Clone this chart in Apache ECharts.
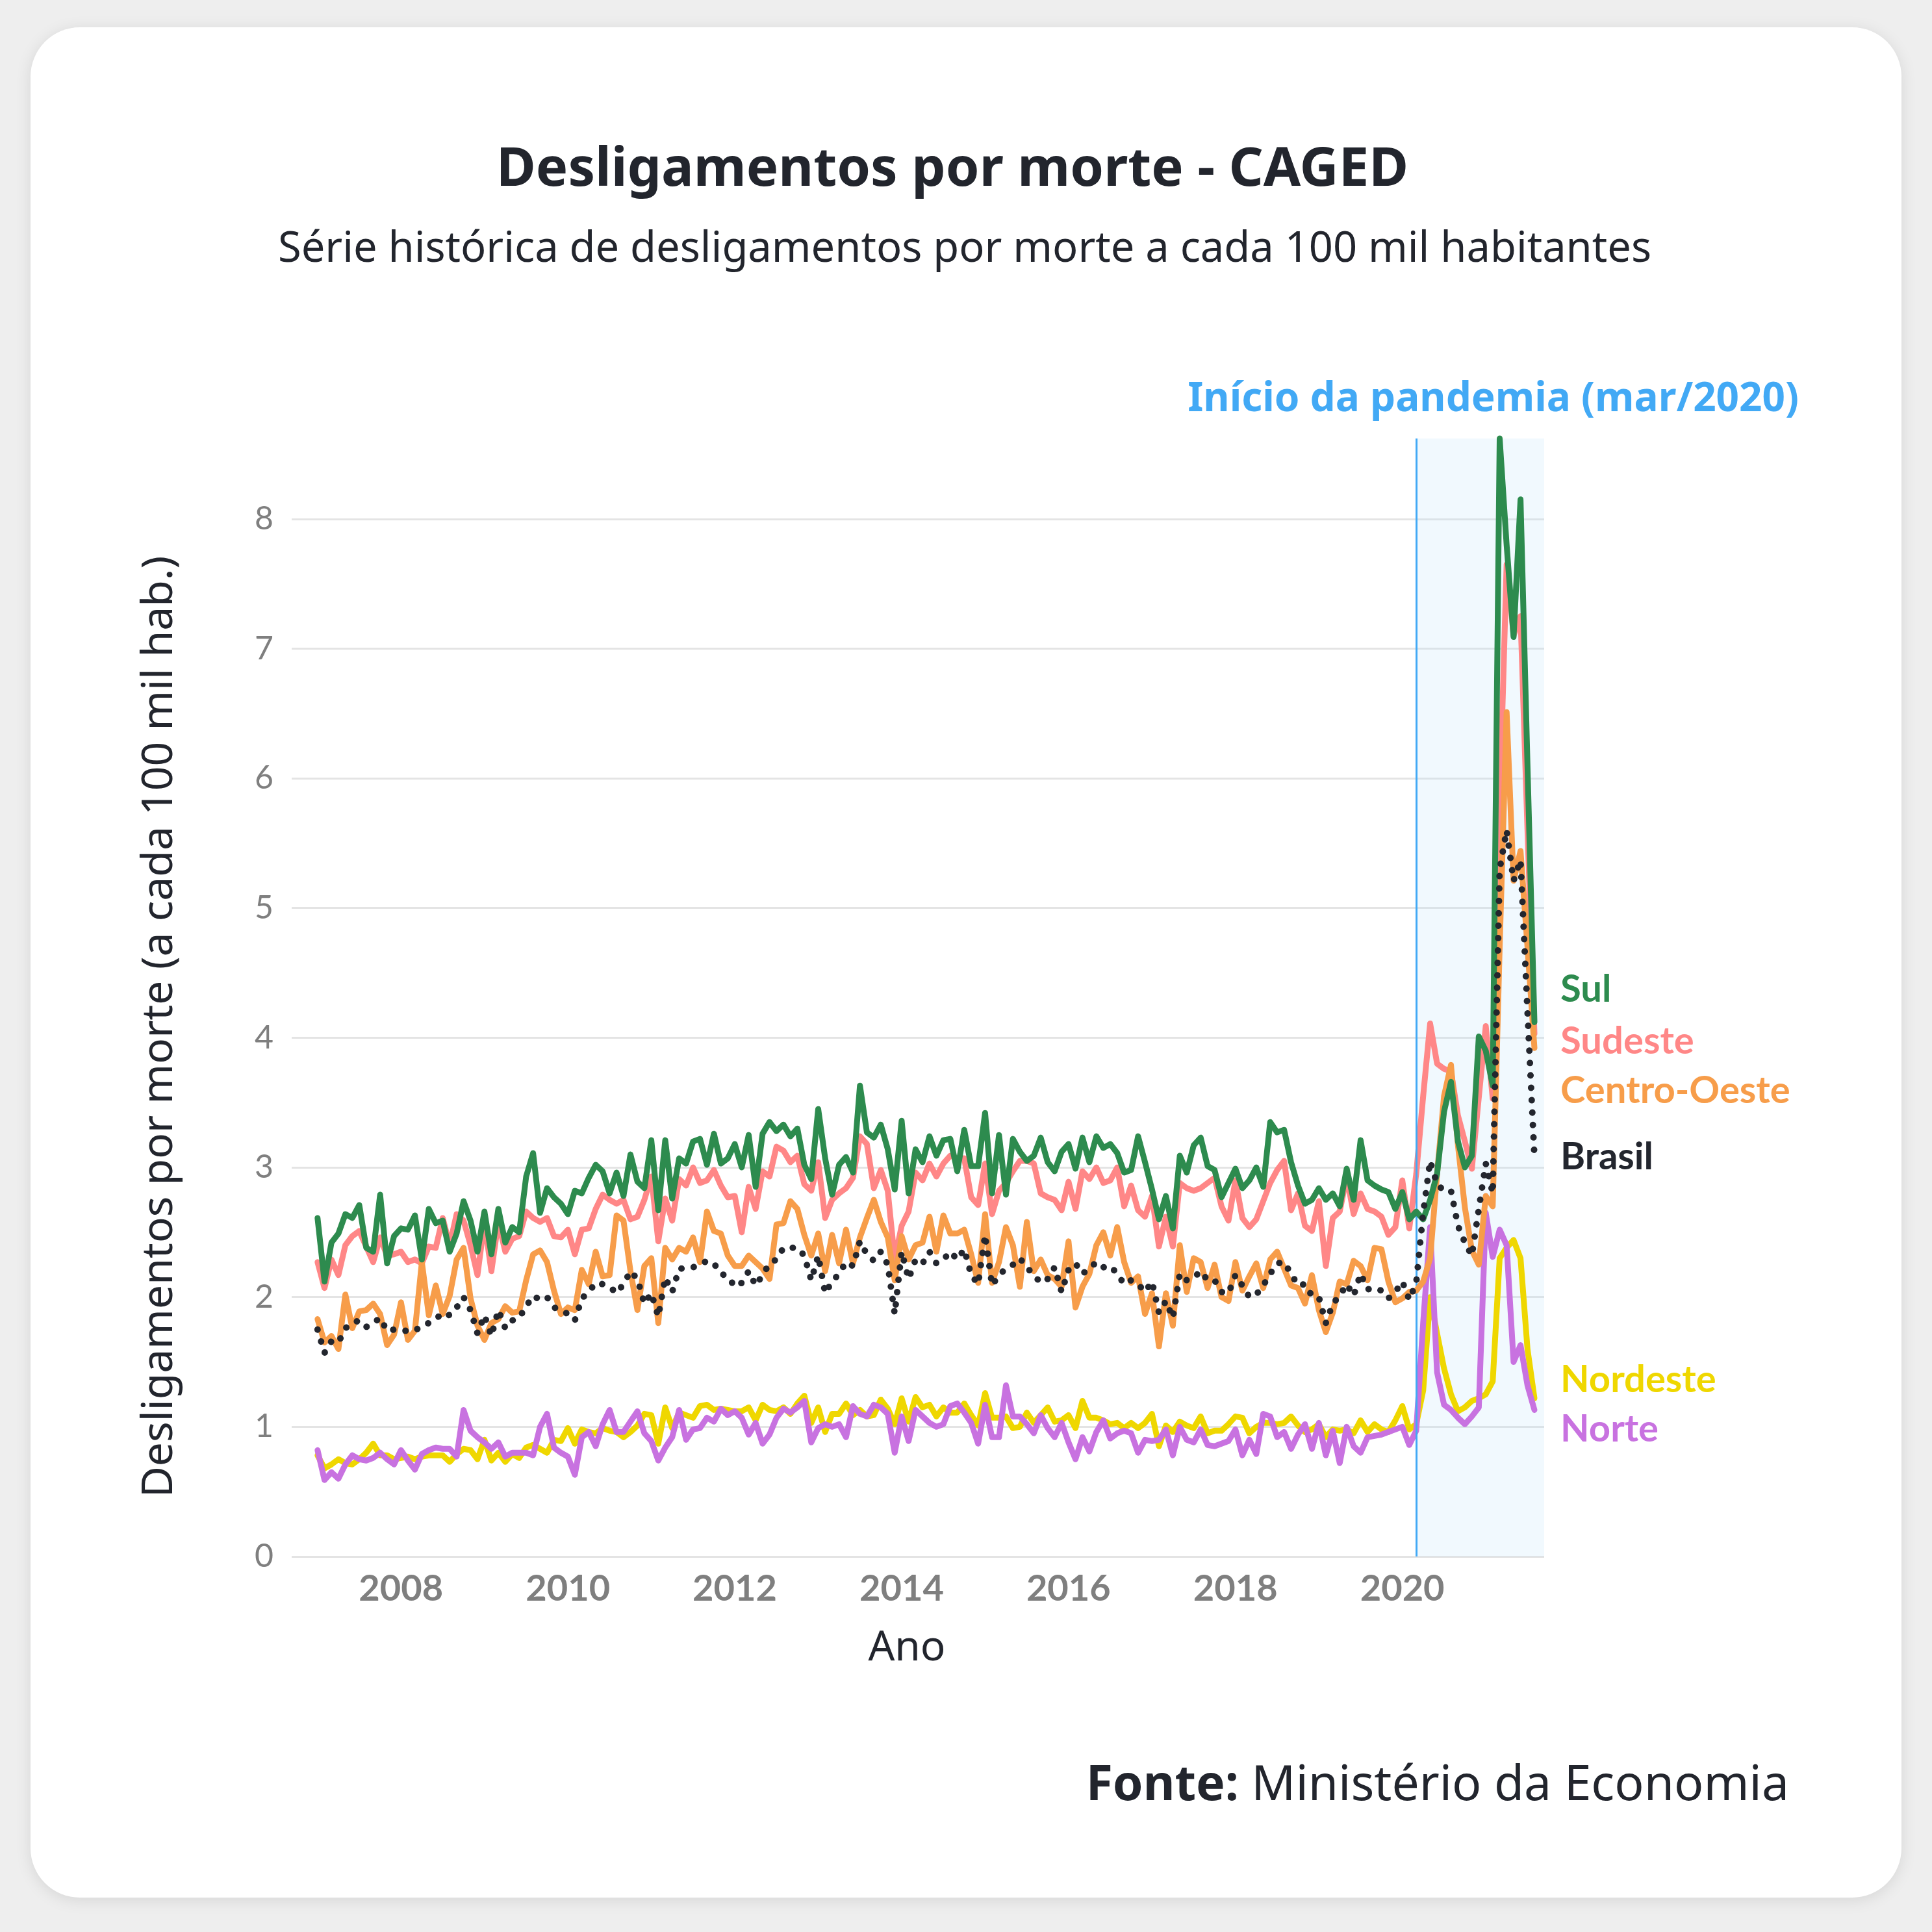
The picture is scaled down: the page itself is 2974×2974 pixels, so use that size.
<!DOCTYPE html>
<html>
<head>
<meta charset="utf-8">
<script src="https://cdn.jsdelivr.net/npm/echarts@6/dist/echarts.min.js"></script>
<style>
html, body { margin: 0; padding: 0; background: #eeeeee; width: 2974px; height: 2974px; overflow: hidden; }
#card { position: absolute; left: 47px; top: 42px; width: 2880px; height: 2879px; background: #ffffff; border-radius: 76px; box-shadow: 0 4px 24px rgba(0,0,0,0.10); }
#chart { position: absolute; left: 0; top: 0; width: 2974px; height: 2974px; }
</style>
</head>
<body>
<div id="card"></div>
<div id="chart"></div>
<script>
// Monthly series, Jan 2007 .. Aug 2021 (deaths-related dismissals per 100k inhabitants)
const START_YEAR = 2007;
const PANDEMIC_START = 2020 + 2 / 12; // mar/2020
const X_TICK_LABELS = ['2008', '2010', '2012', '2014', '2016', '2018', '2020'];

const sul = [
  2.61,2.12,2.42,2.49,2.64,2.61,2.71,2.38,2.35,2.79,2.26,2.47,
  2.53,2.52,2.63,2.29,2.68,2.57,2.59,2.35,2.49,2.74,2.59,2.35,
  2.66,2.33,2.68,2.42,2.54,2.50,2.93,3.11,2.65,2.84,2.77,2.72,
  2.64,2.82,2.80,2.92,3.02,2.97,2.80,2.96,2.78,3.10,2.89,2.84,
  3.21,2.67,3.21,2.76,3.07,3.03,3.20,3.22,3.02,3.26,3.03,3.07,
  3.18,3.00,3.25,2.85,3.26,3.35,3.28,3.33,3.24,3.30,3.02,2.91,
  3.45,3.07,2.79,3.02,3.08,2.96,3.63,3.27,3.23,3.33,3.14,2.83,
  3.36,2.80,3.14,3.04,3.24,3.09,3.21,3.22,2.97,3.29,3.01,3.01,
  3.42,2.80,3.25,2.79,3.22,3.12,3.05,3.09,3.23,3.04,2.97,3.12,
  3.18,2.99,3.23,3.04,3.24,3.15,3.18,3.11,2.96,2.98,3.24,3.04,
  2.83,2.60,2.78,2.53,3.09,2.96,3.17,3.23,3.01,2.98,2.77,2.88,
  2.99,2.84,2.90,3.00,2.85,3.35,3.27,3.29,3.04,2.86,2.72,2.75,
  2.84,2.75,2.80,2.70,2.99,2.75,3.21,2.90,2.86,2.83,2.81,2.68,
  2.81,2.60,2.66,2.60,2.75,2.95,3.43,3.66,3.20,3.00,3.09,4.01,
  3.90,3.63,8.62,7.80,7.09,8.15,6.10,4.12
];
const sudeste = [
  2.27,2.07,2.29,2.17,2.40,2.47,2.51,2.39,2.27,2.46,2.32,2.33,
  2.35,2.27,2.29,2.26,2.39,2.38,2.61,2.40,2.64,2.59,2.40,2.17,
  2.58,2.20,2.58,2.35,2.45,2.47,2.66,2.61,2.58,2.61,2.47,2.46,
  2.52,2.33,2.52,2.53,2.68,2.79,2.75,2.72,2.75,2.60,2.62,2.75,
  2.93,2.43,2.76,2.59,2.91,2.86,3.00,2.88,2.90,2.98,2.86,2.77,
  2.78,2.50,2.85,2.68,2.97,2.93,3.16,3.13,3.04,3.09,2.87,2.82,
  3.04,2.61,2.75,2.80,2.84,2.92,3.24,3.18,2.84,2.98,2.82,2.29,
  2.55,2.66,2.96,2.90,3.03,2.93,3.03,3.09,3.07,3.07,2.77,2.71,
  3.03,2.64,2.82,2.88,2.97,3.05,3.05,3.03,2.80,2.77,2.75,2.67,
  2.89,2.68,2.97,2.91,3.00,2.88,2.90,3.00,2.70,2.86,2.67,2.62,
  2.78,2.39,2.62,2.39,2.88,2.84,2.82,2.84,2.88,2.92,2.70,2.59,
  2.90,2.61,2.54,2.60,2.74,2.88,2.98,3.05,2.67,2.80,2.55,2.51,
  2.74,2.24,2.61,2.66,2.93,2.64,2.80,2.68,2.66,2.62,2.48,2.54,
  2.90,2.53,2.95,3.55,4.11,3.80,3.76,3.74,3.40,3.20,2.99,3.54,
  4.09,3.53,5.80,7.65,7.10,7.25,5.60,4.03
];
const centroOeste = [
  1.83,1.65,1.70,1.60,2.02,1.76,1.89,1.90,1.95,1.87,1.63,1.71,
  1.96,1.67,1.74,2.27,1.86,2.09,1.87,2.01,2.29,2.38,1.99,1.78,
  1.67,1.80,1.83,1.93,1.88,1.89,2.13,2.33,2.36,2.27,2.05,1.87,
  1.92,1.90,2.21,2.10,2.35,2.16,2.17,2.63,2.59,2.20,1.90,2.24,
  2.30,1.80,2.38,2.29,2.38,2.35,2.46,2.27,2.66,2.51,2.49,2.32,
  2.24,2.24,2.32,2.27,2.22,2.14,2.56,2.57,2.74,2.68,2.48,2.32,
  2.49,2.20,2.48,2.26,2.52,2.26,2.46,2.61,2.75,2.58,2.46,2.13,
  2.47,2.29,2.40,2.42,2.62,2.35,2.63,2.49,2.49,2.52,2.33,2.11,
  2.64,2.11,2.27,2.54,2.40,2.08,2.58,2.20,2.29,2.17,2.14,2.08,
  2.43,1.92,2.08,2.18,2.40,2.50,2.32,2.54,2.27,2.11,2.16,1.87,
  2.03,1.62,2.03,1.78,2.40,2.04,2.30,2.27,2.07,2.25,2.00,1.97,
  2.27,2.05,2.16,2.26,2.07,2.29,2.35,2.22,2.09,2.07,1.95,2.17,
  1.90,1.73,1.88,2.12,2.10,2.28,2.24,2.13,2.38,2.37,2.12,1.96,
  1.99,2.04,2.05,2.12,2.30,2.95,3.55,3.79,3.17,2.69,2.36,2.25,
  2.78,2.70,4.70,6.51,5.21,5.44,4.70,3.92
];
const brasil = [
  1.75,1.57,1.66,1.65,1.76,1.80,1.82,1.77,1.80,1.84,1.74,1.75,
  1.74,1.74,1.74,1.78,1.80,1.83,1.88,1.86,1.92,2.00,1.90,1.72,
  1.86,1.70,1.90,1.76,1.82,1.84,1.93,2.01,1.98,2.00,1.92,1.90,
  1.87,1.82,1.99,2.04,2.11,2.10,2.08,2.03,2.10,2.20,2.14,1.95,
  2.03,1.85,2.15,2.04,2.22,2.22,2.23,2.25,2.28,2.26,2.18,2.16,
  2.08,2.11,2.20,2.09,2.17,2.26,2.29,2.38,2.38,2.38,2.32,2.13,
  2.32,2.03,2.12,2.18,2.27,2.24,2.43,2.33,2.28,2.35,2.25,1.87,
  2.35,2.14,2.29,2.26,2.35,2.26,2.29,2.35,2.29,2.37,2.17,2.10,
  2.48,2.09,2.17,2.22,2.25,2.30,2.23,2.17,2.11,2.14,2.23,2.04,
  2.21,2.26,2.18,2.22,2.27,2.23,2.24,2.18,2.10,2.13,2.10,2.04,
  2.12,1.88,1.97,1.84,2.18,2.13,2.15,2.20,2.13,2.13,2.04,2.03,
  2.17,2.09,2.00,2.02,2.09,2.18,2.26,2.27,2.18,2.09,2.10,2.01,
  2.00,1.80,1.95,2.01,2.10,2.01,2.18,2.06,2.07,2.05,1.99,2.04,
  2.12,1.98,2.11,2.65,3.05,2.87,2.82,2.82,2.55,2.42,2.32,2.68,
  3.03,2.80,5.30,5.60,5.21,5.37,4.20,3.08
];
const nordeste = [
  0.78,0.68,0.71,0.75,0.72,0.71,0.75,0.80,0.87,0.78,0.78,0.75,
  0.76,0.77,0.75,0.77,0.78,0.78,0.78,0.73,0.79,0.83,0.82,0.75,
  0.90,0.74,0.80,0.73,0.79,0.76,0.84,0.86,0.83,0.80,0.90,0.89,
  0.99,0.87,0.98,0.96,0.95,0.99,0.97,0.96,0.92,0.96,1.01,1.10,
  1.09,0.87,1.15,0.99,1.11,1.09,1.07,1.16,1.17,1.13,1.14,1.13,
  1.12,1.12,1.15,1.05,1.17,1.13,1.12,1.15,1.10,1.18,1.24,1.03,
  1.15,0.96,1.10,1.10,1.18,1.09,1.13,1.08,1.09,1.21,1.14,1.02,
  1.22,1.04,1.23,1.15,1.17,1.08,1.15,1.11,1.11,1.18,1.09,1.01,
  1.26,1.07,1.07,1.08,0.99,1.00,1.11,1.03,1.09,1.15,1.04,1.05,
  1.09,0.99,1.20,1.07,1.07,1.05,1.02,1.03,0.99,1.03,0.99,1.03,
  1.10,0.85,1.01,0.96,1.04,1.01,0.99,1.08,0.95,0.97,0.97,1.02,
  1.08,1.07,0.95,1.00,1.03,1.03,1.02,1.03,1.08,1.01,0.96,0.98,
  1.02,0.92,0.98,0.97,0.98,0.95,1.05,0.96,1.02,0.98,0.96,1.05,
  1.16,0.98,1.02,1.28,2.00,1.72,1.45,1.25,1.12,1.15,1.20,1.22,
  1.25,1.35,2.30,2.38,2.44,2.30,1.60,1.22
];
const norte = [
  0.82,0.59,0.65,0.60,0.71,0.78,0.75,0.74,0.76,0.80,0.75,0.71,
  0.82,0.74,0.67,0.79,0.82,0.84,0.83,0.83,0.77,1.13,0.97,0.92,
  0.88,0.83,0.88,0.77,0.80,0.80,0.80,0.78,1.00,1.10,0.84,0.80,
  0.77,0.63,0.92,0.96,0.85,1.02,1.13,0.96,0.96,1.04,1.12,0.95,
  0.89,0.74,0.84,0.92,1.13,0.90,0.98,0.99,1.07,1.04,1.14,1.09,
  1.12,1.07,0.94,1.03,0.87,0.94,1.07,1.14,1.11,1.15,1.20,0.88,
  0.99,1.02,1.00,1.02,0.92,1.16,1.10,1.08,1.17,1.15,1.10,0.80,
  1.08,0.89,1.13,1.08,1.03,1.00,1.02,1.16,1.18,1.11,1.03,0.87,
  1.17,0.92,0.92,1.32,1.08,1.08,1.02,0.95,1.09,0.99,0.92,1.03,
  0.88,0.75,0.92,0.81,0.96,1.05,0.91,0.95,0.97,0.95,0.80,0.90,
  0.89,0.90,0.98,0.78,1.00,0.90,0.88,0.98,0.86,0.85,0.87,0.89,
  0.98,0.78,0.90,0.79,1.10,1.08,0.92,0.96,0.83,0.94,1.02,0.83,
  1.03,0.78,0.97,0.72,1.00,0.85,0.80,0.92,0.93,0.94,0.96,0.98,
  1.00,0.86,0.97,1.80,2.54,1.42,1.17,1.13,1.07,1.02,1.08,1.15,
  2.65,2.31,2.52,2.40,1.50,1.63,1.32,1.13
];

const toPairs = arr => arr.map((v, i) => [START_YEAR + i / 12, v]);
const Y_MAX = Math.max(...sul, ...sudeste, ...centroOeste, ...brasil, ...nordeste, ...norte);

// Layout (page pixels)
const GRID = { left: 449, right: 597, bottom: 578 };
const UNIT_PX = 199.6;
GRID.top = Math.round(2974 - GRID.bottom - Y_MAX * UNIT_PX);
const X_MIN = 2006.69, X_MAX = 2021.70;

const LABEL_FONT = 'Lato, "Noto Sans", sans-serif';
const HEAD_FONT = '"Noto Sans", "Open Sans", sans-serif';
const DARK = '#22252d';

function lineSeries(name, data, color, z, labelDy, extra) {
  return Object.assign({
    name: name,
    type: 'line',
    data: toPairs(data),
    showSymbol: false,
    symbol: 'none',
    clip: false,
    z: z,
    lineStyle: { color: color, width: 9, cap: 'round', join: 'round' },
    itemStyle: { color: color },
    emphasis: { disabled: true },
    endLabel: {
      show: true,
      formatter: name,
      color: color,
      fontFamily: LABEL_FONT,
      fontWeight: 'bold',
      fontSize: 58,
      distance: 40,
      offset: [0, labelDy]
    }
  }, extra || {});
}

const chart = echarts.init(document.getElementById('chart'), null, { renderer: 'canvas', width: 2974, height: 2974 });

chart.setOption({
  animation: false,
  backgroundColor: 'transparent',
  grid: { left: GRID.left, right: GRID.right, top: GRID.top, bottom: GRID.bottom, containLabel: false },
  xAxis: {
    type: 'value',
    min: X_MIN,
    max: X_MAX,
    splitNumber: 7,
    name: 'Ano',
    nameLocation: 'middle',
    nameGap: 110,
    nameTextStyle: { color: DARK, fontFamily: HEAD_FONT, fontSize: 64, padding: [0, 34, 0, 0] },
    axisLine: { show: false },
    axisTick: { show: false },
    splitLine: { show: false },
    axisLabel: {
      color: '#7f7f7f',
      fontFamily: LABEL_FONT,
      fontWeight: 'bold',
      fontSize: 56,
      margin: 22,
      showMinLabel: false,
      showMaxLabel: false,
      formatter: v => {
        const s = String(Math.round(v));
        return (Math.abs(v - Math.round(v)) < 1e-6 && X_TICK_LABELS.includes(s)) ? s : '';
      }
    }
  },
  yAxis: {
    type: 'value',
    min: 0,
    max: Y_MAX,
    interval: 1,
    name: 'Desligamentos por morte (a cada 100 mil hab.)',
    nameLocation: 'middle',
    nameGap: 170,
    nameTextStyle: { color: DARK, fontFamily: HEAD_FONT, fontSize: 66, padding: [0, 90, 0, 0] },
    axisLine: { show: false },
    axisTick: { show: false },
    splitLine: { show: true, showMaxLine: false, lineStyle: { color: '#e4e4e4', width: 3 } },
    axisLabel: {
      color: '#7f7f7f',
      fontFamily: LABEL_FONT,
      fontSize: 50,
      margin: 28,
      showMaxLabel: false
    }
  },
  graphic: [
    { type: 'text', x: 1466, y: 262, style: { text: 'Desligamentos por morte - CAGED', fill: DARK, fontFamily: HEAD_FONT, fontWeight: 'bold', fontSize: 83, align: 'center', verticalAlign: 'middle' } },
    { type: 'text', x: 1485, y: 384, style: { text: 'Série histórica de desligamentos por morte a cada 100 mil habitantes', fill: DARK, fontFamily: HEAD_FONT, fontSize: 65, align: 'center', verticalAlign: 'middle' } },
    { type: 'text', x: 2769, y: 615, style: { text: 'Início da pandemia (mar/2020)', fill: '#42a9f5', fontFamily: HEAD_FONT, fontWeight: 'bold', fontSize: 62, align: 'right', verticalAlign: 'middle' } },
    { type: 'text', x: 2754, y: 2750, style: {
        text: '{b|Fonte:} {r|Ministério da Economia}',
        align: 'right', verticalAlign: 'middle',
        fontFamily: HEAD_FONT, fontSize: 75, fill: DARK,
        rich: {
          b: { fill: DARK, fontFamily: HEAD_FONT, fontWeight: 'bold', fontSize: 75 },
          r: { fill: DARK, fontFamily: HEAD_FONT, fontSize: 75 }
        }
      } }
  ],
  series: [
    lineSeries('Nordeste', nordeste, '#efd700', 2, -28, {
      markArea: {
        silent: true,
        itemStyle: { color: 'rgba(185, 225, 250, 0.2)' },
        label: { show: false },
        data: [[{ xAxis: PANDEMIC_START }, { xAxis: X_MAX }]]
      },
      markLine: {
        silent: true,
        symbol: ['none', 'none'],
        label: { show: false },
        lineStyle: { color: '#42a9f5', width: 3, type: 'solid' },
        data: [{ xAxis: PANDEMIC_START }]
      }
    }),
    lineSeries('Norte', norte, '#c872e0', 3, 30),
    lineSeries('Sudeste', sudeste, '#ff8787', 4, 12),
    lineSeries('Centro-Oeste', centroOeste, '#f79d4a', 5, 66),
    lineSeries('Sul', sul, '#2d8b4e', 6, -50),
    lineSeries('Brasil', brasil, '#23262e', 7, 0, {
      lineStyle: { color: '#23262e', width: 10, type: [0.1, 19], cap: 'round', join: 'round' }
    })
  ]
});
</script>
</body>
</html>
